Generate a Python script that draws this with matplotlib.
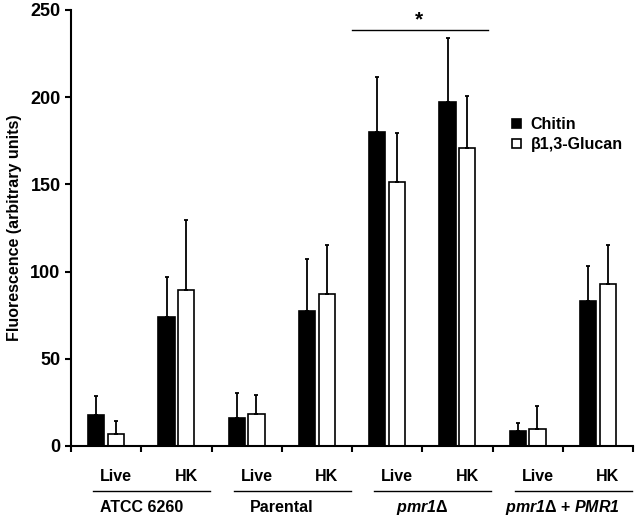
import matplotlib
matplotlib.use('Agg')
import matplotlib.pyplot as plt
import numpy as np

plt.rcParams['font.family'] = ['Liberation Sans', 'DejaVu Sans']
plt.rcParams['font.weight'] = 'bold'
plt.rcParams['mathtext.fontset'] = 'custom'
plt.rcParams['mathtext.rm'] = 'Liberation Sans:bold:italic'
plt.rcParams['mathtext.it'] = 'Liberation Sans:bold:italic'
plt.rcParams['mathtext.bf'] = 'Liberation Sans:bold'

# data
conditions = ['Live', 'HK', 'Live', 'HK', 'Live', 'HK', 'Live', 'HK']
chitin = [17.8, 74.0, 16.0, 77.6, 179.9, 197.2, 8.8, 83.1]
chitin_err = [10.7, 22.9, 14.6, 29.4, 31.7, 36.9, 4.4, 19.9]
glucan = [6.7, 89.6, 18.5, 87.3, 151.2, 170.9, 9.6, 93.1]
glucan_err = [7.8, 39.8, 10.7, 27.7, 28.1, 29.8, 13.2, 22.3]
strains = ['ATCC 6260', 'Parental', r'$\mathit{pmr1}$Δ', r'$\mathit{pmr1}$Δ + $\mathit{PMR1}$']

fig = plt.figure(figsize=(6.38, 5.21), dpi=100)
ax = fig.add_axes([71/638, 1-446/521, 562/638, 436/521])

x = np.arange(len(conditions))
w = 0.23
off = 0.14
ekw = dict(elinewidth=1.3, capsize=1.5, capthick=1.3, ecolor='black')
ax.bar(x - off, chitin, w, color='black', edgecolor='black', linewidth=1.2,
       yerr=[np.zeros(len(x)), chitin_err], error_kw=ekw, label='Chitin', zorder=2)
ax.bar(x + off, glucan, w, color='white', edgecolor='black', linewidth=1.2,
       yerr=[np.zeros(len(x)), glucan_err], error_kw=ekw, label='β1,3-Glucan', zorder=2)

ax.set_xlim(-0.5, 7.5)
ax.set_ylim(0, 250)
ax.set_yticks([0, 50, 100, 150, 200, 250])
ax.set_xticks(np.arange(-0.5, 8, 1))
ax.set_xticklabels([])
ax.tick_params(axis='both', direction='out', length=4, width=1.5, labelsize=13)
for s in ['top', 'right']:
    ax.spines[s].set_visible(False)
for s in ['left', 'bottom']:
    ax.spines[s].set_linewidth(1.5)
ax.set_ylabel('Fluorescence (arbitrary units)', fontsize=11.5, fontweight='bold', labelpad=6)

# condition labels and group labels below axis
tr = ax.get_xaxis_transform()
for i, c in enumerate(conditions):
    ax.text(i + off, -0.071, c, transform=tr, ha='center', va='center',
            fontsize=11.5, fontweight='bold')
for g, s in enumerate(strains):
    x0, x1 = 2*g - 0.5 + 0.32, 2*g + 1.5 - 0.02
    ax.plot([x0, x1], [-0.1025, -0.1025], transform=tr,
            color='black', lw=1.0, clip_on=False)
    ax.text(2*g + 0.5, -0.142, s, transform=tr, ha='center',
            va='center', fontsize=11.5, fontweight='bold')

# significance bar
ax.plot([3.5, 5.43], [238.4, 238.4], color='black', lw=1.0)
ax.text(4.45, 239, '*', ha='center', va='bottom', fontsize=15, fontweight='bold')

ax.legend(loc='upper left', bbox_to_anchor=(0.76, 0.787), frameon=False,
          handlelength=0.55, handleheight=0.55, handletextpad=0.6, labelspacing=0.3,
          prop={'weight': 'bold', 'size': 11.5})

fig.savefig('out.png', dpi=100)
